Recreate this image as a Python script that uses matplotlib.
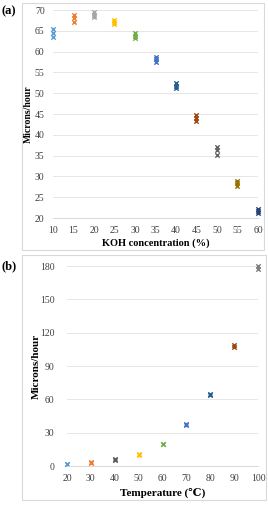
import matplotlib
matplotlib.use("Agg")
from matplotlib import pyplot as plt
from matplotlib.patches import Rectangle

plt.rcParams['font.family'] = ['Liberation Serif', 'DejaVu Serif']

# panel (a): KOH concentration vs etch rate, three samples per point
koh_conc = [10, 15, 20, 25, 30, 35, 40, 45, 50, 55, 60]
koh_rate = [
    [63.5, 64.5, 65.5],
    [67.2, 68.0, 68.8],
    [68.2, 68.8, 69.4],
    [66.6, 67.0, 67.5],
    [63.2, 63.8, 64.4],
    [57.6, 58.2, 58.8],
    [51.2, 51.8, 52.4],
    [43.4, 44.0, 44.8],
    [35.2, 36.4, 37.0],
    [27.6, 28.4, 29.0],
    [21.2, 21.7, 22.2],
]
koh_colors = ["#5B9BD5", "#ED7D31", "#A5A5A5", "#FFC000", "#70AD47", "#4472C4",
              "#255E91", "#9E480E", "#636363", "#997300", "#264478"]

# panel (b): temperature vs etch rate
temp = [20, 30, 40, 50, 60, 70, 80, 90, 100]
temp_rate = [
    [1.5, 1.8],
    [2.8, 3.2],
    [5.8, 6.2],
    [10.0, 10.6],
    [19.5, 20.2],
    [36.5, 37.5],
    [63.5, 64.5],
    [107.5, 108.5],
    [177.5, 180.0],
]
temp_colors = ["#5B9BD5", "#ED7D31", "#595959", "#FFC000", "#70AD47", "#4472C4",
               "#255E91", "#9E480E", "#7F7F7F"]

fig = plt.figure(figsize=(2.68, 5.12), dpi=100)

# chart area frames like an Excel chart
fig.patches.append(Rectangle((22 / 268, 1 - 250 / 512), 242 / 268, 247 / 512,
                             transform=fig.transFigure, fill=False,
                             edgecolor="#d9d9d9", linewidth=0.8))
fig.patches.append(Rectangle((22 / 268, 1 - 500 / 512), 244 / 268, 245 / 512,
                             transform=fig.transFigure, fill=False,
                             edgecolor="#d9d9d9", linewidth=0.8))


def style_axis(ax, ypad):
    for s in ["top", "right", "left"]:
        ax.spines[s].set_visible(False)
    ax.spines["bottom"].set_color("#d9d9d9")
    ax.spines["bottom"].set_linewidth(0.7)
    ax.tick_params(length=0, labelsize=7, colors="#404040")
    ax.tick_params(axis="x", pad=6)
    ax.tick_params(axis="y", pad=ypad)
    ax.yaxis.grid(True, color="#e6e6e6", linewidth=0.7)
    ax.set_axisbelow(True)


ax1 = fig.add_axes([53 / 268, 1 - 218 / 512, 205 / 268, 208 / 512])
for x, ys, c in zip(koh_conc, koh_rate, koh_colors):
    ax1.scatter([x] * len(ys), ys, marker="x", s=10, color=c, linewidths=1.0, clip_on=False)
ax1.set_xlim(10, 60)
ax1.set_ylim(20, 70)
ax1.set_xticks(range(10, 61, 5))
ax1.set_yticks(range(20, 71, 5))
style_axis(ax1, 6)
ax1.set_xlabel("KOH concentration (%)", fontsize=7.5, fontweight="bold", labelpad=2)
ax1.set_ylabel("Microns/hour", fontsize=7, fontweight="bold", va="center")
ax1.yaxis.set_label_coords((28 - 53) / 205, 0.5)

ax2 = fig.add_axes([67 / 268, 1 - 466 / 512, 191 / 268, 200 / 512])
for x, ys, c in zip(temp, temp_rate, temp_colors):
    ax2.scatter([x] * len(ys), ys, marker="x", s=10, color=c, linewidths=1.0, clip_on=False)
ax2.set_xlim(20, 100)
ax2.set_ylim(0, 180)
ax2.set_xticks(range(20, 101, 10))
ax2.set_yticks(range(0, 181, 30))
style_axis(ax2, 9)
ax2.set_xlabel("Temperature (\u2103)", fontsize=8, fontweight="bold", labelpad=3)
ax2.set_ylabel("Microns/hour", fontsize=8, fontweight="bold", va="center")
ax2.yaxis.set_label_coords((36 - 67) / 191, 0.5)

fig.text(2 / 268, 1 - 11 / 512, "(a)", fontsize=9, fontweight="bold", va="center")
fig.text(2 / 268, 1 - 266 / 512, "(b)", fontsize=9, fontweight="bold", va="center")

fig.savefig("out.png", dpi=100)
